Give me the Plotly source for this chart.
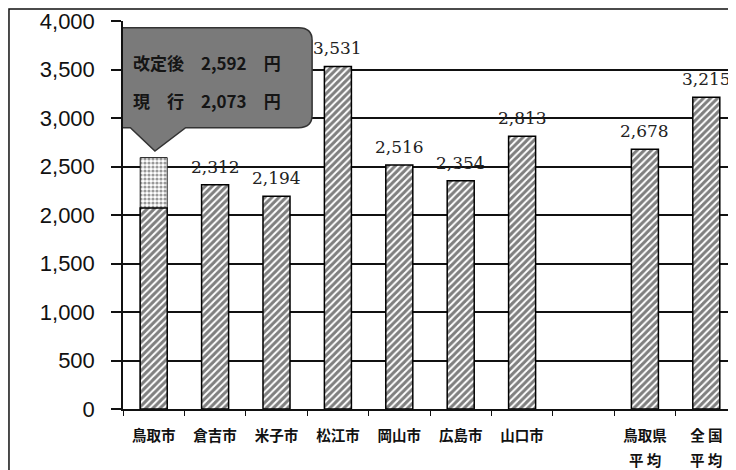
import plotly.graph_objects as go

categories = ["鳥取市", "倉吉市", "米子市", "松江市", "岡山市", "広島市", "山口市", " ", "鳥取県平均", "全国平均"]
tick_labels = ["鳥取市", "倉吉市", "米子市", "松江市", "岡山市", "広島市", "山口市", "", "鳥取県", "全 国"]
sub_labels = ["", "", "", "", "", "", "", "", "平 均", "平 均"]
current_values = [2073, 2312, 2194, 3531, 2516, 2354, 2813, None, 2678, 3215]
revised_values = [2592, None, None, None, None, None, None, None, None, None]
value_labels = ["", "2,312", "2,194", "3,531", "2,516", "2,354", "2,813", "", "2,678", "3,215"]
callout_lines = ["改定後　2,592　円", "現　行　2,073　円"]

fig = go.Figure()
fig.add_trace(go.Bar(
    x=categories, y=revised_values,
    marker=dict(color="white", line=dict(color="#222", width=1),
                pattern=dict(shape=".", fgcolor="#333", bgcolor="white", size=4, solidity=0.5)),
    hoverinfo="skip", showlegend=False))
fig.add_trace(go.Bar(
    x=categories, y=current_values,
    marker=dict(color="white", line=dict(color="#000", width=1.5),
                pattern=dict(shape="/", fgcolor="#000", bgcolor="white", size=5, solidity=0.6)),
    showlegend=False))

for c, v, t in zip(categories, current_values, value_labels):
    if v is not None and t:
        fig.add_annotation(x=c, y=v, text=t, showarrow=False, yanchor="bottom", yshift=6,
                           font=dict(family="DejaVu Serif", size=17, color="#222"))

for c, s in zip(categories, sub_labels):
    if s:
        fig.add_annotation(x=c, y=0, yref="paper", text=f"<b>{s}</b>", showarrow=False,
                           yanchor="middle", yshift=-50,
                           font=dict(family="Noto Sans CJK JP", size=14.5, color="#111"))

# callout balloon (in data coordinates, category index on x)
x0, x1, y0, y1 = -0.74, 2.58, 2900, 3930
rx, ry = 0.22, 130
tipx, tipy = 0.02, 2660
path = (f"M {x0+rx},{y1} L {x1-rx},{y1} Q {x1},{y1} {x1},{y1-ry} "
        f"L {x1},{y0+ry} Q {x1},{y0} {x1-rx},{y0} "
        f"L {0.52},{y0} L {tipx},{tipy} L {-0.38},{y0} "
        f"L {x0+rx},{y0} Q {x0},{y0} {x0},{y0+ry} L {x0},{y1-ry} Q {x0},{y1} {x0+rx},{y1} Z")
fig.add_shape(type="path", path=path, xref="x", yref="y",
              fillcolor="#7a7a7a", line=dict(color="#333", width=1.5), layer="above")
for line, yv in zip(callout_lines, [3575, 3185]):
    fig.add_annotation(x=0.87, y=yv, xref="x", yref="y", text=f"<b>{line}</b>", showarrow=False,
                       font=dict(family="Noto Sans CJK JP", size=17, color="#151515"))

# outer frame
fig.add_shape(type="rect", xref="paper", yref="paper", x0=-0.1857, x1=1.05, y0=-0.3, y1=1.031,
              line=dict(color="#111", width=1.5), fillcolor="rgba(0,0,0,0)", layer="below")

fig.update_layout(
    width=736, height=470,
    margin=dict(l=115, r=7, t=13, b=69, autoexpand=False),
    barmode="overlay", bargap=0.56,
    plot_bgcolor="white", paper_bgcolor="white",
    font=dict(family="Noto Sans CJK JP", color="#111"),
)
fig.update_xaxes(
    type="category", categoryorder="array", categoryarray=categories,
    range=[-0.5, 9.5], automargin=False,
    tickvals=categories, ticktext=tick_labels,
    tickson="boundaries", ticks="outside", ticklen=5, tickcolor="#111",
    showline=True, linecolor="#111", linewidth=1.5, showgrid=False,
    tickfont=dict(family="Noto Sans CJK JP", size=14.5, color="#111", weight="bold"),
    ticklabelstandoff=13,
)
fig.update_yaxes(
    range=[0, 4000], tickvals=[0, 500, 1000, 1500, 2000, 2500, 3000, 3500, 4000],
    tickformat=",", ticks="outside", ticklen=10, tickcolor="#111", tickwidth=1.5,
    showline=True, linecolor="#111", linewidth=1.5, automargin=False,
    showgrid=True, gridcolor="#111", gridwidth=1.5, zeroline=False,
    tickfont=dict(family="Liberation Sans", size=22, color="#111"),
    ticklabelstandoff=12,
)

fig.write_html("out.html")
